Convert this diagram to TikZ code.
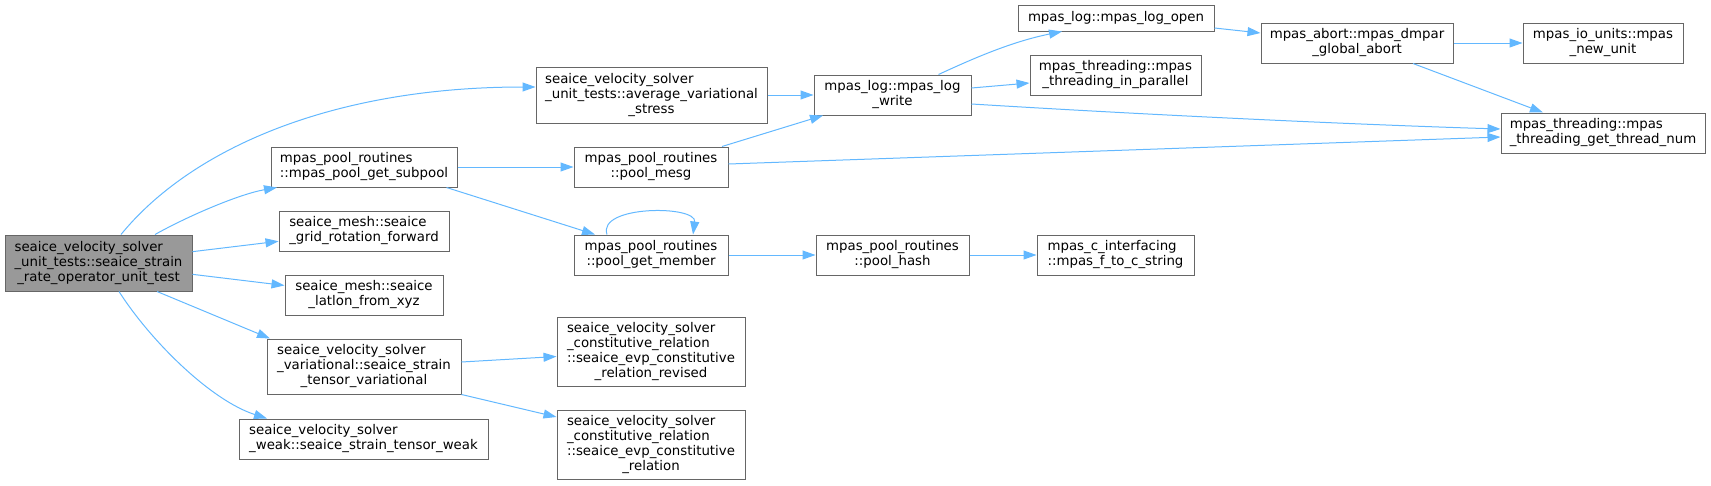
\documentclass[tikz,border=0pt]{standalone}
\usepackage{fontspec}
\setmainfont{DejaVu Sans}
\usetikzlibrary{arrows.meta}
\definecolor{edgec}{HTML}{63B8FF}
\definecolor{bord}{HTML}{666666}
\definecolor{mainfill}{HTML}{999999}
\newcommand{\tl}[2]{\begin{tabular}{@{}l@{}}#1\\\multicolumn{1}{@{}c@{}}{#2}\end{tabular}}
\begin{document}
\begin{tikzpicture}[x=1pt,y=-1pt,
  box/.style={draw=bord, line width=1pt, fill=white, inner sep=0pt, text=black,
    font=\fontsize{13.33}{15}\selectfont},
  edge/.style={draw=edgec, line width=1pt, -{Triangle[length=13pt,width=9pt]}}]
\useasboundingbox (0,0) rectangle (1711,485);
\node[box, fill=mainfill, minimum width=187, minimum height=56] (main) at (98.5,263)
  {\tl{seaice\_velocity\_solver\\\_unit\_tests::seaice\_strain}{\_rate\_operator\_unit\_test}};
\node[box, minimum width=231, minimum height=56] (avg) at (651.5,95)
  {\tl{seaice\_velocity\_solver\\\_unit\_tests::average\_variational}{\_stress}};
\node[box, minimum width=186, minimum height=40] (subpool) at (364,167)
  {\tl{mpas\_pool\_routines}{::mpas\_pool\_get\_subpool}};
\node[box, minimum width=170, minimum height=40] (gridrot) at (364,231)
  {\tl{seaice\_mesh::seaice}{\_grid\_rotation\_forward}};
\node[box, minimum width=158, minimum height=40] (latlon) at (364,295)
  {\tl{seaice\_mesh::seaice}{\_latlon\_from\_xyz}};
\node[box, minimum width=194, minimum height=55] (variational) at (364,366.5)
  {\tl{seaice\_velocity\_solver\\\_variational::seaice\_strain}{\_tensor\_variational}};
\node[box, minimum width=249, minimum height=40] (weak) at (363.5,439)
  {\tl{seaice\_velocity\_solver}{\_weak::seaice\_strain\_tensor\_weak}};
\node[box, minimum width=154, minimum height=40] (mesg) at (651,167)
  {\tl{mpas\_pool\_routines}{::pool\_mesg}};
\node[box, minimum width=154, minimum height=40] (member) at (651,255)
  {\tl{mpas\_pool\_routines}{::pool\_get\_member}};
\node[box, minimum width=188, minimum height=69] (evprev) at (651,351.5)
  {\tl{seaice\_velocity\_solver\\\_constitutive\_relation\\::seaice\_evp\_constitutive}{\_relation\_revised}};
\node[box, minimum width=188, minimum height=69] (evp) at (651,444.5)
  {\tl{seaice\_velocity\_solver\\\_constitutive\_relation\\::seaice\_evp\_constitutive}{\_relation}};
\node[box, minimum width=157, minimum height=40] (logwrite) at (892.5,95)
  {\tl{mpas\_log::mpas\_log}{\_write}};
\node[box, minimum width=153, minimum height=40] (hash) at (892.5,255)
  {\tl{mpas\_pool\_routines}{::pool\_hash}};
\node[box, minimum width=196, minimum height=26] (logopen) at (1116,18)
  {mpas\_log::mpas\_log\_open};
\node[box, minimum width=171, minimum height=40] (parallel) at (1115.5,75)
  {\tl{mpas\_threading::mpas}{\_threading\_in\_parallel}};
\node[box, minimum width=157, minimum height=40] (ftoc) at (1115.5,255)
  {\tl{mpas\_c\_interfacing}{::mpas\_f\_to\_c\_string}};
\node[box, minimum width=192, minimum height=40] (dmpar) at (1357,43)
  {\tl{mpas\_abort::mpas\_dmpar}{\_global\_abort}};
\node[box, minimum width=160, minimum height=40] (newunit) at (1603,43)
  {\tl{mpas\_io\_units::mpas}{\_new\_unit}};
\node[box, minimum width=204, minimum height=40] (threadnum) at (1603,133)
  {\tl{mpas\_threading::mpas}{\_threading\_get\_thread\_num}};
% edges
\draw[edge] ([xshift=22.5pt]main.north) .. controls (190,150) and (330,87) .. ([yshift=8pt]avg.west);
\draw[edge] ([xshift=56.5pt]main.north) .. controls (190,215) and (240,194) .. ([xshift=-87pt]subpool.south);
\draw[edge] (main) -- (gridrot);
\draw[edge] (main) -- (latlon);
\draw[edge] ([xshift=58.5pt]main.south) -- ([xshift=-94pt]variational.north);
\draw[edge] ([xshift=20.5pt]main.south) .. controls (150,340) and (210,400) .. ([xshift=-96.5pt]weak.north);
\draw[edge] (avg) -- (logwrite);
\draw[edge] (subpool) -- (mesg);
\draw[edge] ([xshift=82.5pt]subpool.south) -- ([xshift=-56pt]member.north);
\draw[edge] ([xshift=-44pt]member.north) .. controls (597,205) and (697,205) .. ([xshift=42pt]member.north);
\draw[edge] ([xshift=71pt]mesg.north) -- ([xshift=-69.5pt]logwrite.south);
\draw[edge] ([yshift=3pt]mesg.east) -- ([yshift=-4pt]threadnum.west);
\draw[edge] ([yshift=-9pt]logwrite.east) .. controls (1200,118) and (1400,126) .. ([yshift=4pt]threadnum.west);
\draw[edge] ([xshift=46pt]logwrite.north) .. controls (970,60) and (1010,42) .. ([xshift=-54pt]logopen.south);
\draw[edge] ([yshift=7pt]logwrite.east) -- ([yshift=-8pt]parallel.west);
\draw[edge] ([yshift=-10pt]logopen.east) -- ([yshift=10pt]dmpar.west);
\draw[edge] (dmpar) -- (newunit);
\draw[edge] ([xshift=56pt]dmpar.south) -- ([xshift=-60pt]threadnum.north);
\draw[edge] (member) -- (hash);
\draw[edge] (hash) -- (ftoc);
\draw[edge] ([yshift=4.5pt]variational.east) -- ([yshift=-5pt]evprev.west);
\draw[edge] (variational.south east) -- ([yshift=27.5pt]evp.west);
\end{tikzpicture}
\end{document}
